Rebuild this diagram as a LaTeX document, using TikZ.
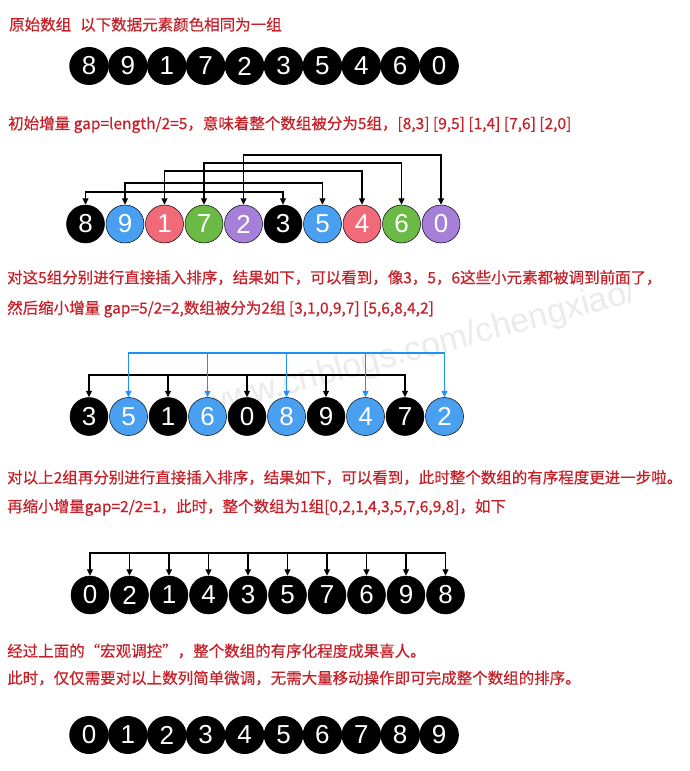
\documentclass[tikz,border=0pt]{standalone}
\usepackage{fontspec}
\usepackage{graphicx}
\usepackage{xcolor}
\usetikzlibrary{arrows.meta,shapes.geometric}
\newfontfamily\cjk{Noto Sans CJK SC}[FakeBold=0.5]
\newfontfamily\digitfont{Liberation Sans}
\definecolor{textred}{RGB}{198,32,40}
\definecolor{myblue}{RGB}{74,160,240}
\definecolor{mypink}{RGB}{240,106,122}
\definecolor{mygreen}{RGB}{108,186,70}
\definecolor{mypurple}{RGB}{166,128,216}
\definecolor{arrowblue}{RGB}{30,144,250}

\begin{document}
\begin{tikzpicture}[x=1pt,y=-1pt,
    note/.style={anchor=west,inner sep=0pt,text=textred,font=\cjk\fontsize{15.5}{18}\selectfont},
    oval/.style={ellipse,fill=black,minimum width=39.5pt,minimum height=38pt,inner sep=0pt,text=white,font=\digitfont\fontsize{26}{30}\selectfont},
    ball/.style={circle,draw=black,line width=0.5pt,minimum size=38pt,inner sep=0pt,text=white,font=\digitfont\fontsize{26}{30}\selectfont},
    link/.style={line width=1.1pt},
    >={Triangle[length=6.5pt,width=6pt]}]
    \fill[white] (0,0) rectangle (690,771);
    % Watermark
    \node[rotate=15,text=black!8,font=\digitfont\fontsize{34}{38}\selectfont] (wm) at (420,350) {www.cnblogs.com/chengxiao/};
    % Labels
    \node[note] (t1) at (9,24.5) {原始数组\hspace{9pt}以下数据元素颜色相同为一组};
    \node[note] (t2) at (8,124.5) {初始增量 gap=length/2=5，意味着整个数组被分为5组，[8,3] [9,5] [1,4] [7,6] [2,0]};
    \node[note] (t3) at (7,277.5) {对这5组分别进行直接插入排序，结果如下，可以看到，像3，5，6这些小元素都被调到前面了，};
    \node[note] (t4) at (7,309) {然后缩小增量 gap=5/2=2,数组被分为2组 [3,1,0,9,7] [5,6,8,4,2]};
    \node[note] (t5) at (7,477.5) {对以上2组再分别进行直接插入排序，结果如下，可以看到，此时整个数组的有序程度更进一步啦。};
    \node[note] (t6) at (7,507.5) {再缩小增量gap=2/2=1，此时，整个数组为1组[0,2,1,4,3,5,7,6,9,8]，如下};
    \node[note] (t7) at (7,651) {经过上面的“宏观调控”，整个数组的有序化程度成果喜人。};
    \node[note] (t8) at (7,678) {此时，仅仅需要对以上数列简单微调，无需大量移动操作即可完成整个数组的排序。};
    % Original array
    \foreach \v [count=\k] in {8,9,1,7,2,3,5,4,6,0}
        \node[oval] (a-\k) at ({89+38.9*(\k-1)},66) {\v};
    % gap = 5
    \foreach \v/\c [count=\k] in {8/black,9/myblue,1/mypink,7/mygreen,2/mypurple,3/black,5/myblue,4/mypink,6/mygreen,0/mypurple}
        \node[ball,fill=\c] (b-\k) at ({85.5+39.5*(\k-1)},224) {\v};
    \foreach \i/\lv in {1/192,2/183,3/171,4/163,5/155} {
        \pgfmathtruncatemacro\j{\i+5}
        \draw[link,<->] (b-\i.north) -- (b-\i.north |- 0,\lv) -- (b-\j.north |- 0,\lv) -- (b-\j.north);
    }
    % gap = 2
    \foreach \v/\c [count=\k] in {3/black,5/myblue,1/black,6/myblue,0/black,8/myblue,9/black,4/myblue,7/black,2/myblue}
        \node[ball,fill=\c] (c-\k) at ({89+39.5*(\k-1)},416.5) {\v};
    \draw[link,<->] (c-1.north) -- (c-1.north |- 0,375) -- (c-9.north |- 0,375) -- (c-9.north);
    \foreach \k in {3,5,7}
        \draw[link,->] (c-\k.north |- 0,375) -- (c-\k.north);
    \draw[link,arrowblue,<->] (c-2.north) -- (c-2.north |- 0,353) -- (c-10.north |- 0,353) -- (c-10.north);
    \foreach \k in {4,6,8}
        \draw[link,arrowblue,->] (c-\k.north |- 0,353) -- (c-\k.north);
    % gap = 1
    \foreach \v [count=\k] in {0,2,1,4,3,5,7,6,9,8}
        \node[ball,fill=black] (d-\k) at ({90+39.5*(\k-1)},595) {\v};
    \draw[link,<->] (d-1.north) -- (d-1.north |- 0,553) -- (d-10.north |- 0,553) -- (d-10.north);
    \foreach \k in {2,...,9}
        \draw[link,->] (d-\k.north |- 0,553) -- (d-\k.north);
    % Sorted array
    \foreach \v [count=\k] in {0,1,2,3,4,5,6,7,8,9}
        \node[oval] (e-\k) at ({89+38.9*(\k-1)},735) {\v};
\end{tikzpicture}
\end{document}
